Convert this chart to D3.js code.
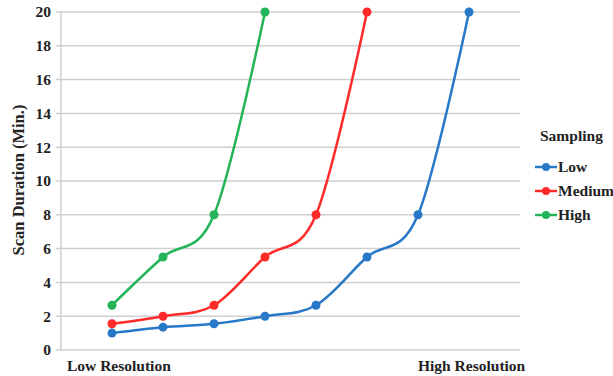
<!DOCTYPE html>
<html><head><meta charset="utf-8">
<script src="https://cdn.jsdelivr.net/npm/d3@7"></script>
<style>body{margin:0;background:#fff}</style>
</head><body>
<svg id="c" width="613" height="376"></svg>
<script>
const seriesNames = ["Low", "Medium", "High"];
const seriesColors = ["#2878c8", "#ff2a2a", "#22b457"];
const lowValues = [1.0, 1.35, 1.55, 2.0, 2.65, 5.5, 8, 20];
const mediumValues = [1.55, 2.0, 2.65, 5.5, 8, 20];
const highValues = [2.65, 5.5, 8, 20];
const yTicks = [0, 2, 4, 6, 8, 10, 12, 14, 16, 18, 20];
const xLabels = ["Low Resolution", "High Resolution"];

const svg = d3.select("#c");
const font = "'Liberation Serif','Times New Roman',serif";
const x = d3.scaleLinear().domain([0, 9]).range([61, 520]);
const y = d3.scaleLinear().domain([0, 20]).range([350, 12]);

// gridlines
svg.append("g").selectAll("line").data(yTicks).join("line")
  .attr("x1", 56).attr("x2", x(9))
  .attr("y1", d => y(d)).attr("y2", d => y(d))
  .attr("stroke", "#cfcfcf").attr("stroke-width", 1.5);
svg.append("line").attr("x1", x(0)).attr("x2", x(0)).attr("y1", y(20)).attr("y2", y(0))
  .attr("stroke", "#cfcfcf").attr("stroke-width", 1.5);

// y axis labels
const yAxis = d3.axisLeft(y).tickValues(yTicks).tickSize(0).tickPadding(10);
const ga = svg.append("g").attr("transform", `translate(${x(0)},0)`).call(yAxis);
ga.select(".domain").remove();
ga.selectAll("text").attr("font-family", font).attr("font-weight", "bold")
  .attr("font-size", 15.5).attr("fill", "#222");

svg.append("text").attr("transform", "translate(24,180) rotate(-90)")
  .attr("text-anchor", "middle").attr("font-family", font).attr("font-weight", "bold")
  .attr("font-size", 16.5).attr("fill", "#222").text("Scan Duration (Min.)");

svg.append("text").attr("x", 67).attr("y", 371).attr("font-family", font)
  .attr("font-weight", "bold").attr("font-size", 15.5).attr("fill", "#222").text(xLabels[0]);
svg.append("text").attr("x", 418).attr("y", 371).attr("font-family", font)
  .attr("font-weight", "bold").attr("font-size", 15.5).attr("fill", "#222").text(xLabels[1]);

const allSeries = [lowValues, mediumValues, highValues];
const line = d3.line().x((d, i) => x(i + 1)).y(d => y(d)).curve(d3.curveCardinal.tension(0));
allSeries.forEach((vals, si) => {
  const g = svg.append("g");
  g.append("path").datum(vals).attr("d", line).attr("fill", "none")
    .attr("stroke", seriesColors[si]).attr("stroke-width", 2.5);
  g.selectAll("circle").data(vals).join("circle")
    .attr("cx", (d, i) => x(i + 1)).attr("cy", d => y(d)).attr("r", 4.5)
    .attr("fill", seriesColors[si]);
});

// legend
svg.append("text").attr("x", 540).attr("y", 141).attr("font-family", font)
  .attr("font-weight", "bold").attr("font-size", 15.5).attr("fill", "#222").text("Sampling");
seriesNames.forEach((n, i) => {
  const yy = 167 + i * 24;
  svg.append("line").attr("x1", 535).attr("x2", 557).attr("y1", yy).attr("y2", yy)
    .attr("stroke", seriesColors[i]).attr("stroke-width", 2.5);
  svg.append("circle").attr("cx", 546).attr("cy", yy).attr("r", 4).attr("fill", seriesColors[i]);
  svg.append("text").attr("x", 558).attr("y", yy + 5).attr("font-family", font)
    .attr("font-weight", "bold").attr("font-size", 15.5).attr("fill", "#222").text(n);
});
</script>
</body></html>
